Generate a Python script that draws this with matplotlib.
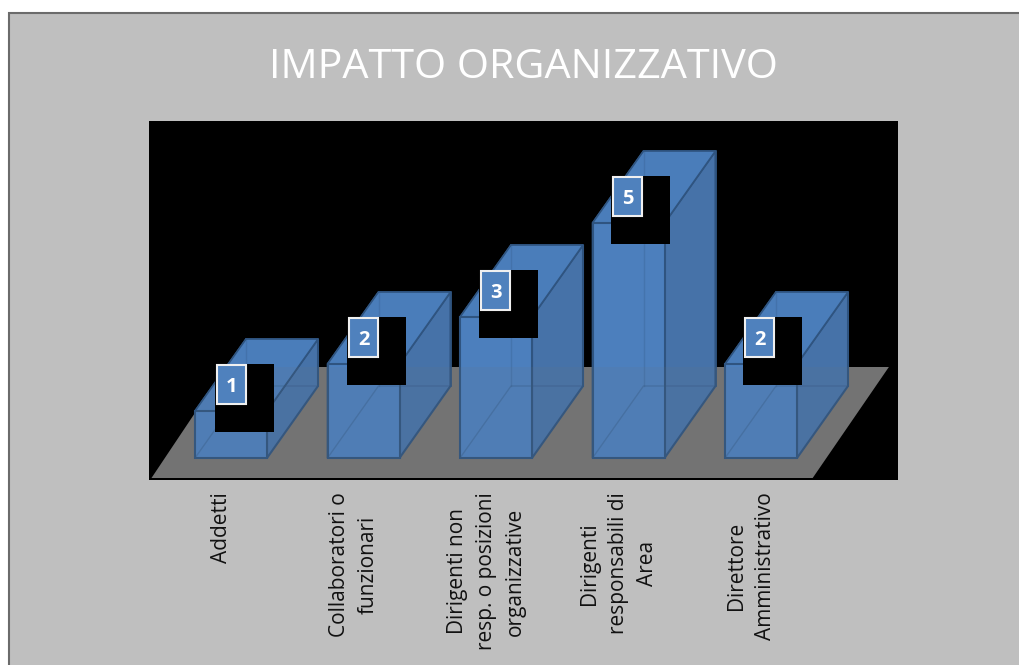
import numpy as np
import matplotlib
matplotlib.use('Agg')
import matplotlib.pyplot as plt
from matplotlib.patches import Polygon, Rectangle

plt.rcParams['font.family'] = ['Open Sans', 'DejaVu Sans']

title = 'IMPATTO ORGANIZZATIVO'
categories = ['Addetti',
              'Collaboratori o\nfunzionari',
              'Dirigenti non\nresp. o posizioni\norganizzative',
              'Dirigenti\nresponsabili di\nArea',
              'Direttore\nAmministrativo']
values = [1, 2, 3, 5, 2]

W, H = 1020, 665
fig = plt.figure(figsize=(W/100, H/100), dpi=100, facecolor='white')

# grey slide behind everything
fig.add_artist(Rectangle((9/W, -0.1), 1.1, 1.1-13.5/H, transform=fig.transFigure,
                         facecolor='#bfbfbf', edgecolor='#6b6b6b', lw=1.5, zorder=-5))
fig.text(523.5/W, 1-68/H, title, color='white', fontsize=29.8, ha='center', va='center')

# plot area: 1 value unit = 47 px, 1 category = 132.5 px
ax = fig.add_axes([148.5/W, 1-480/H, 749.5/W, 359/H], facecolor='black')
xpx, ypx = 132.5, 47.0
ax.set_xlim((148.5-231)/xpx, (898-231)/xpx)
ax.set_ylim(-22/ypx, 337/ypx)

bw = 72/xpx
dx, dy = 51/xpx, 72/ypx
edge = '#2f5480'
front_c = '#4c7fbd'
side_c = '#4672a8'
top_c = '#4a7dba'
back_c = '#44709f'

# floor
fl_lo, fl_hi = -20/ypx, 91/ypx
floor = [(-0.6, fl_lo), (4.39, fl_lo), (4.965, fl_hi), (-0.04, fl_hi)]
ax.add_patch(Polygon(floor, facecolor='#737373', edgecolor='none', zorder=1))

for i, v in enumerate(values):
    x0, x1 = i-bw/2, i+bw/2
    z = 2+i
    # back faces show through the front
    ax.add_patch(Polygon([(x0+dx, dy), (x1+dx, dy), (x1+dx, v+dy), (x0+dx, v+dy)],
                         facecolor=back_c, edgecolor=edge, lw=1.2, zorder=z))
    ax.add_patch(Polygon([(x0, 0), (x0+dx, dy), (x0+dx, v+dy), (x0, v)],
                         facecolor=back_c, edgecolor=edge, lw=1.2, zorder=z))
    ax.add_patch(Polygon([(x1, 0), (x1+dx, dy), (x1+dx, v+dy), (x1, v)],
                         facecolor=side_c, edgecolor=edge, lw=1.5, zorder=z))
    ax.add_patch(Polygon([(x0, v), (x1, v), (x1+dx, v+dy), (x0+dx, v+dy)],
                         facecolor=top_c, edgecolor=edge, lw=1.2, zorder=z))
    ax.add_patch(Rectangle((x0, 0), bw, v, facecolor=front_c, edgecolor=edge, lw=1.5, zorder=z))
    # faint inner edges
    ax.plot([x0, x0+dx, x1+dx], [0, dy, dy], color=edge, lw=1, alpha=0.35, zorder=z+0.1)
    ax.plot([x0+dx, x0+dx], [dy, v+dy], color=edge, lw=1, alpha=0.25, zorder=z+0.1)

# floor tints the bars a little, same colour so it only shows through them
ax.add_patch(Polygon(floor, facecolor='#737373', edgecolor='none', alpha=0.1, zorder=10))

# data labels, each with the black patch behind it
for i, v in enumerate(values):
    lx = i*132/xpx
    ax.add_patch(Rectangle((lx-16/xpx, v-21/ypx), 59/xpx, 68/ypx, facecolor='black',
                           edgecolor='none', zorder=20))
    ax.add_patch(Rectangle((lx-14/xpx, v+7/ypx), 29/xpx, 39/ypx, facecolor='#4f81bd',
                           edgecolor='#f0f0f0', lw=1.5, zorder=21))
    ax.text(lx+0.5/xpx, v+24/ypx, str(v), color='white', fontsize=14.5, fontweight='bold',
            ha='center', va='center', zorder=22)

ax.set_xticks(np.arange(len(categories))-0.075)
ax.set_xticklabels(categories, rotation=90, ha='center', va='top', ma='center',
                   fontsize=15, color='#111111', linespacing=1.5)
ax.tick_params(axis='x', length=0, pad=9)
ax.set_yticks([])
for s in ax.spines.values():
    s.set_visible(False)

fig.savefig('out.png', dpi=100)
